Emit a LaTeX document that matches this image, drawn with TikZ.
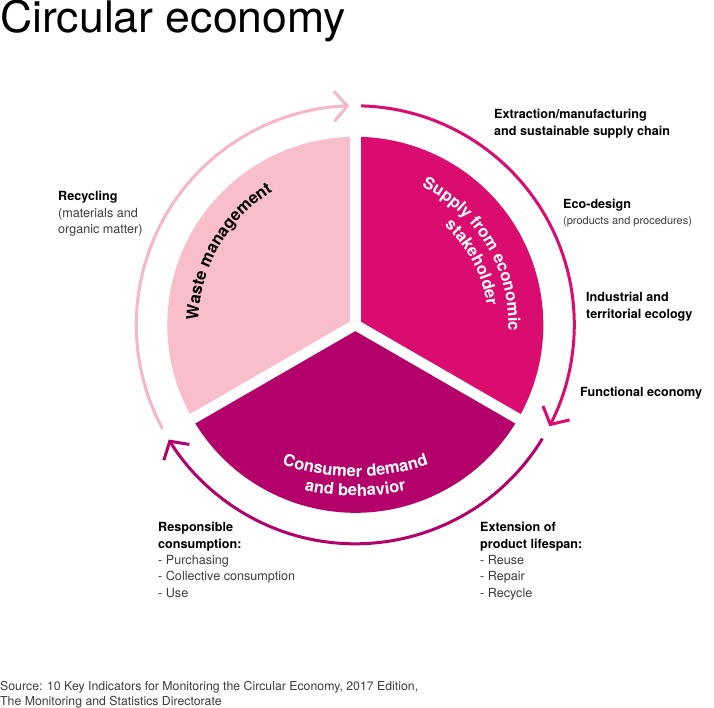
\documentclass[tikz,border=0pt]{standalone}
\usepackage{fontspec}
\setmainfont{TeX Gyre Heros}
\usepackage{tikz}
\usetikzlibrary{arrows.meta,decorations.text}

\definecolor{wastepink}{HTML}{F8BECC}
\definecolor{supplymag}{HTML}{DB0C6F}
\definecolor{consumag}{HTML}{B4006B}
\definecolor{arcpink}{HTML}{F6B6C6}
\definecolor{textgrey}{HTML}{3C3C3C}

\newcommand{\sectorfont}{\bfseries\fontsize{16.5}{19}\selectfont}
\newcommand{\lgt}[1]{{\color{textgrey}\mdseries #1}}

\tikzset{
  sidetext/.style={anchor=base west, inner sep=0pt, align=left,
    font=\bfseries\fontsize{12.6}{16.3}\selectfont},
  cycarc/.style={line width=3pt, -{Straight Barb[length=13pt,width=30pt]}},
  onarc/.style={decorate, decoration={text along path, text align=center, text={#1}}},
}

\begin{document}
\begin{tikzpicture}[x=1pt,y=1pt]
      \useasboundingbox (0,0) rectangle (714,708);
      \coordinate (c) at (355.3,383.2);
      \coordinate (cc) at (355.3,451);
      % sectors
      \fill[wastepink] (c) -- ++(90:188) arc (90:210:188) -- cycle;
      \fill[supplymag] (c) -- ++(-30:188) arc (-30:90:188) -- cycle;
      \fill[consumag] (c) -- ++(210:188) arc (210:330:188) -- cycle;
      \foreach \a in {90,210,330}
        \draw[white, line width=10.7pt, line cap=round] (c) -- ++(\a:196);
      % cycle arrows
      \draw[cycarc, arcpink] (c) ++(208.3:219) arc (208.3:91.6:219);
      \draw[cycarc, supplymag] (c) ++(88.5:219) arc (88.5:-27.6:219);
      \draw[cycarc, consumag] (c) ++(-31.3:219) arc (-31.3:-148.4:219);
      % sector labels
      \path[onarc={|\sectorfont\color{black}|Waste management}] (c) ++(205:157) arc (205:95:157);
      \path[onarc={|\sectorfont\color{white}|Supply from economic}] (c) ++(91:153) arc (91:-29:153);
      \path[onarc={|\sectorfont\color{white}|stakeholder}] (c) ++(83:133) arc (83:-27:133);
      \path[onarc={|\sectorfont\color{white}|Consumer demand}] (cc) ++(240:220) arc (240:300:220);
      \path[onarc={|\sectorfont\color{white}|and behavior}] (cc) ++(240:239) arc (240:300:239);
      % title and source
      \draw (0,675) node[anchor=base west, inner sep=0pt, font=\fontsize{43.5}{50}\selectfont](title){\scalebox{1.025}[1]{Circular economy}};
      \draw (0,2.5) node[sidetext, font=\mdseries\fontsize{12.3}{15}\selectfont, text=textgrey](source){Source: 10 Key Indicators for Monitoring the Circular Economy, 2017 Edition,\\The Monitoring and Statistics Directorate};
      % right side
      \draw (494,572.7) node[sidetext](extract){Extraction/manufacturing\\and sustainable supply chain};
      \draw (563,483) node[sidetext](ecodesign){Eco-design\\{\fontsize{11}{14}\selectfont\lgt{(products and procedures)}}};
      \draw (586,389.7) node[sidetext](industrial){Industrial and\\territorial ecology};
      \draw (580,311) node[sidetext](functional){Functional economy};
      % left side
      \draw (58,474.4) node[sidetext](recycling){Recycling\\\lgt{(materials and}\\\lgt{organic matter)}};
      % bottom
      \draw (158,110.8) node[sidetext](responsible){Responsible\\consumption:\\\lgt{- Purchasing}\\\lgt{- Collective consumption}\\\lgt{- Use}};
      \draw (480,110.8) node[sidetext](extension){Extension of\\product lifespan:\\\lgt{- Reuse}\\\lgt{- Repair}\\\lgt{- Recycle}};
    \end{tikzpicture}
\end{document}
